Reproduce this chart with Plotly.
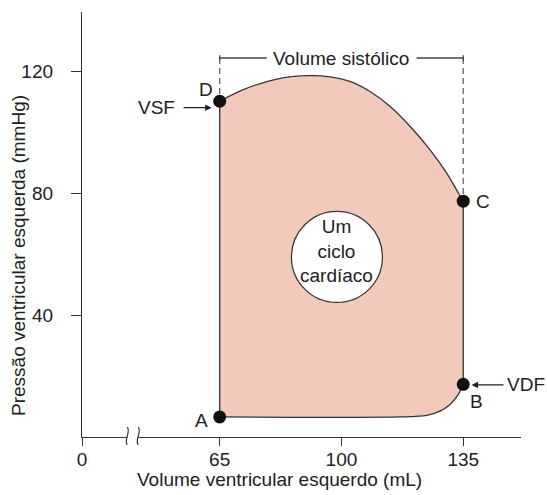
import plotly.graph_objects as go

# ---- data ----
loop_volume = [65, 71.8, 81.4, 90.9, 96.7, 102.4, 108.2, 114.0, 119.7, 125.4, 130.2, 133.6, 135,
               135, 133.6, 131.2, 128.3, 124.5, 117.0, 65, 65]
loop_pressure = [110.2, 114.0, 117.5, 118.6, 118.2, 116.7, 113.4, 108.5, 102.0, 94.3, 86.7, 80.1, 77.4,
                 17.3, 14.0, 10.7, 8.5, 7.1, 6.6, 6.6, 110.2]

point_labels = ["D", "C", "B", "A"]
point_volume = [65, 135, 135, 65]
point_pressure = [110.2, 77.4, 17.3, 6.6]

x_tickvals = [25.43, 65, 100, 135]
x_ticktext = ["0", "65", "100", "135"]
y_tickvals = [40, 80, 120]
y_ticktext = ["40", "80", "120"]

esv = 65
edv = 135
bracket_level = 124.4
cycle_center = (98.7, 59.1)

FONT = "Liberation Sans, Arial, Helvetica, sans-serif"
INK = "#222222"
FILL = "#F2C9BA"

fig = go.Figure()

# filled loop
fig.add_trace(go.Scatter(x=loop_volume, y=loop_pressure, mode="lines", fill="toself",
                         fillcolor=FILL, line=dict(width=0), hoverinfo="skip", showlegend=False))
# outline: top arc (D->C), right side, bottom curve (B->A), left side
top_idx = slice(0, 13)
bot_idx = slice(13, 20)
fig.add_trace(go.Scatter(x=loop_volume[top_idx], y=loop_pressure[top_idx], mode="lines",
                         line=dict(color="#333", width=1.3, shape="spline", smoothing=0.8),
                         showlegend=False, hoverinfo="skip"))
fig.add_trace(go.Scatter(x=loop_volume[12:14], y=loop_pressure[12:14], mode="lines",
                         line=dict(color="#333", width=1.3), showlegend=False, hoverinfo="skip"))
fig.add_trace(go.Scatter(x=loop_volume[bot_idx], y=loop_pressure[bot_idx], mode="lines",
                         line=dict(color="#333", width=1.3, shape="spline", smoothing=0.8),
                         showlegend=False, hoverinfo="skip"))
fig.add_trace(go.Scatter(x=loop_volume[19:21], y=loop_pressure[19:21], mode="lines",
                         line=dict(color="#333", width=1.3), showlegend=False, hoverinfo="skip"))

# dashed verticals
fig.add_trace(go.Scatter(x=[esv, esv], y=[bracket_level, point_pressure[0]], mode="lines",
                         line=dict(color="#666", width=1.3, dash="6px,4px"), showlegend=False, hoverinfo="skip"))
fig.add_trace(go.Scatter(x=[edv, edv], y=[bracket_level, point_pressure[1]], mode="lines",
                         line=dict(color="#666", width=1.3, dash="6px,4px"), showlegend=False, hoverinfo="skip"))

# points
fig.add_trace(go.Scatter(x=point_volume, y=point_pressure, mode="markers",
                         marker=dict(size=13, color="#111"), cliponaxis=False,
                         showlegend=False, hoverinfo="skip"))

shapes = []
# bracket lines
shapes.append(dict(type="line", xref="x", yref="y", x0=esv, x1=78.5, y0=bracket_level, y1=bracket_level,
                   line=dict(color="#444", width=1.3)))
shapes.append(dict(type="line", xref="x", yref="y", x0=121.6, x1=edv, y0=bracket_level, y1=bracket_level,
                   line=dict(color="#444", width=1.3)))
for xv in (esv, edv):
    shapes.append(dict(type="line", xref="x", yref="y", x0=xv, x1=xv, y0=bracket_level - 0.9,
                       y1=bracket_level + 0.9, line=dict(color="#444", width=1.3)))
# circle
r_px = 45.5
shapes.append(dict(type="circle", xref="x", yref="y",
                   x0=cycle_center[0] - r_px / 3.479, x1=cycle_center[0] + r_px / 3.479,
                   y0=cycle_center[1] - r_px / 3.047, y1=cycle_center[1] + r_px / 3.047,
                   fillcolor="white", line=dict(color="#333", width=1.2), layer="above"))
# axis break
shapes.append(dict(type="rect", xref="paper", yref="paper", x0=0.1032, x1=0.1282, y0=-0.005, y1=0.005,
                   fillcolor="white", line=dict(width=0), layer="above"))
for bx in (0.1032, 0.1282):
    shapes.append(dict(type="path", xref="paper", yref="paper", layer="above",
                       path=f"M {bx:.4f},0.0235 C {bx + 0.009:.4f},0.012 {bx - 0.009:.4f},-0.007 {bx:.4f},-0.0188",
                       line=dict(color="#333", width=1.2)))

annotations = []
# point labels
label_shift = {"D": (-14, 12), "C": (20, 0), "B": (13, -17), "A": (-18, -4)}
for lab, xv, yv in zip(point_labels, point_volume, point_pressure):
    dx, dy = label_shift[lab]
    annotations.append(dict(x=xv, y=yv, xref="x", yref="y", text=lab, showarrow=False,
                            xshift=dx, yshift=dy, font=dict(size=19, color=INK, family=FONT)))
# VSF arrow
annotations.append(dict(x=62.7, y=108.1, xref="x", yref="y", ax=54.2, ay=108.1, axref="x", ayref="y",
                        text="", showarrow=True, arrowhead=2, arrowsize=1, arrowwidth=1.3, arrowcolor=INK))
annotations.append(dict(x=46.7, y=108.1, xref="x", yref="y", text="VSF", showarrow=False,
                        font=dict(size=19, color=INK, family=FONT)))
# VDF arrow
annotations.append(dict(x=137.4, y=17.1, xref="x", yref="y", ax=147.0, ay=17.1, axref="x", ayref="y",
                        text="", showarrow=True, arrowhead=2, arrowsize=1, arrowwidth=1.3, arrowcolor=INK))
annotations.append(dict(x=1.0125, y=17.1, xref="paper", yref="y", text="VDF", showarrow=False,
                        xanchor="center", yanchor="middle",
                        font=dict(size=19, color=INK, family=FONT)))
# bracket label
annotations.append(dict(x=100, y=bracket_level, xref="x", yref="y", text="Volume sistólico", showarrow=False,
                        font=dict(size=19, color=INK, family=FONT), bgcolor="white"))
# circle text
annotations.append(dict(x=cycle_center[0], y=61.0, xref="x", yref="y", text="Um<br>ciclo<br>cardíaco",
                        showarrow=False, font=dict(size=19, color=INK, family=FONT)))
# axis titles
annotations.append(dict(x=-0.1435, y=0.426, xref="paper", yref="paper", text="Pressão ventricular esquerda (mmHg)",
                        textangle=-90, showarrow=False, xanchor="center", yanchor="middle",
                        font=dict(size=19, color=INK, family=FONT)))
annotations.append(dict(x=0.451, y=-0.101, xref="paper", yref="paper", text="Volume ventricular esquerdo (mL)",
                        showarrow=False, xanchor="center", yanchor="middle",
                        font=dict(size=19, color=INK, family=FONT)))

fig.update_layout(
    width=547, height=495,
    margin=dict(l=82, r=26, t=12, b=58),
    paper_bgcolor="white", plot_bgcolor="white",
    shapes=shapes, annotations=annotations,
    font=dict(family=FONT, size=19, color=INK),
    xaxis=dict(range=[25.43, 151.6], showgrid=False, zeroline=False, showline=True, linecolor="#333",
               linewidth=1.3, ticks="outside", ticklen=8, tickwidth=1.3, tickcolor="#333",
               tickvals=x_tickvals, ticktext=x_ticktext, tickfont=dict(size=19, color=INK, family=FONT),
               ticklabelstandoff=-3),
    yaxis=dict(range=[0, 139.5], showgrid=False, zeroline=False, showline=True, linecolor="#333",
               linewidth=1.3, ticks="outside", ticklen=10, tickwidth=1.3, tickcolor="#333",
               tickvals=y_tickvals, ticktext=y_ticktext, tickfont=dict(size=19, color=INK, family=FONT),
               ticklabelstandoff=14),
)

fig.write_html("out.html",
               config={"displayModeBar": False},
               post_script="document.body.style.margin='0';document.body.style.overflow='hidden';")
